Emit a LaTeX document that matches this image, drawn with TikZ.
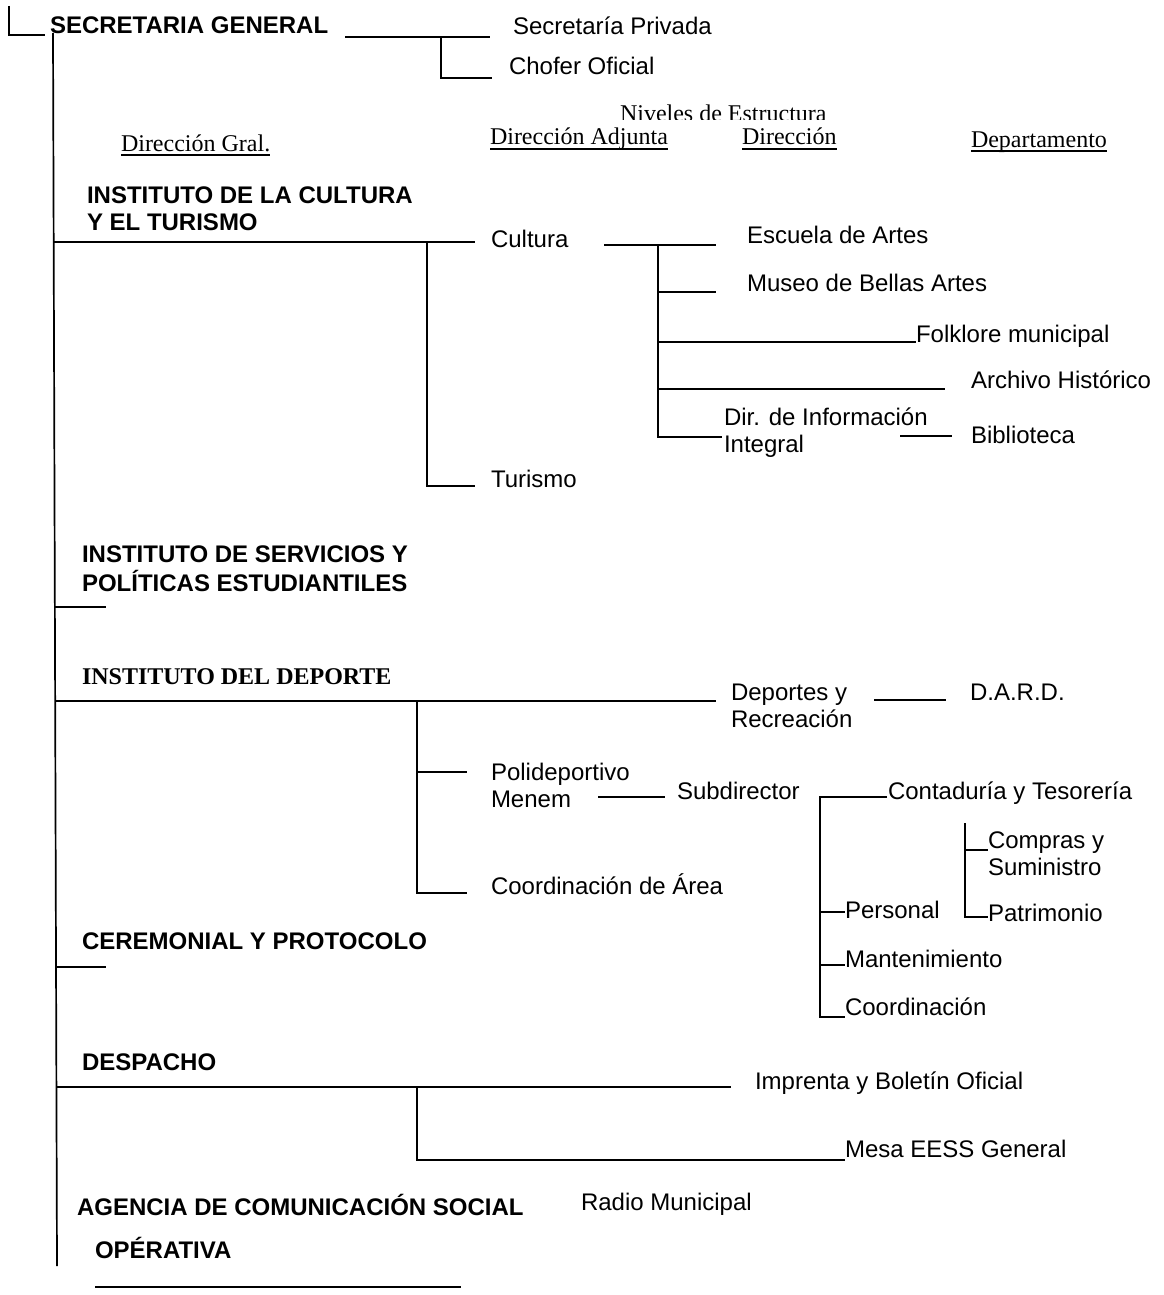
\documentclass[tikz,border=0pt]{standalone}
\usepackage{fontspec}
\setmainfont{Liberation Sans}
\newfontfamily\tmsfont{Liberation Serif}
\newcommand\myfs{\fontsize{24}{27}\selectfont}
\newcommand\twol[2]{\begin{tabular}[t]{@{}l@{}}#1\\#2\end{tabular}}
\tikzset{
  lbl/.style={anchor=base west, inner sep=0pt, outer sep=0pt, font=\myfs},
  blbl/.style={lbl, font=\myfs\bfseries},
  hdr/.style={lbl, font=\myfs\tmsfont},
  link/.style={line width=1.7pt, line join=miter},
  ulin/.style={line width=1.3pt}
}
\begin{document}
\begin{tikzpicture}[x=1pt,y=-1pt]
\useasboundingbox (0,0) rectangle (1163,1295);

% ---------- texts ----------
\node[blbl] (sg) at (50,34) {SECRETARIA GENERAL};
\node[lbl] (spriv) at (513,35) {Secretaría Privada};
\node[lbl] (chofer) at (509,75) {Chofer Oficial};

\begin{scope}
  \clip (600,90) rectangle (900,120);
  \node[hdr] (niveles) at (620,122) {Niveles de Estructura};
\end{scope}
\node[hdr] (dgral) at (121,151) {Dirección Gral.};
\node[hdr] (dadj) at (490,145) {Dirección Adjunta};
\node[hdr] (dir) at (742,145) {Dirección};
\node[hdr] (dep) at (971,147) {Departamento};
\foreach \n in {dgral,dadj,dir,dep}
  \draw[ulin] ([yshift=-4pt]\n.base west) -- ([yshift=-4pt]\n.base east);

\node[blbl] (icult) at (87,203) {\twol{INSTITUTO DE LA CULTURA}{Y EL TURISMO}};
\node[lbl] (cultura) at (491,247) {Cultura};
\node[lbl] (turismo) at (491,487) {Turismo};
\node[lbl] (escuela) at (747,243) {Escuela de Artes};
\node[lbl] (museo) at (747,291) {Museo de Bellas Artes};
\node[lbl] (folk) at (916,342) {Folklore municipal};
\node[lbl] (archivo) at (971,388) {Archivo Histórico};
\node[lbl] (dirinf) at (724,425) {\twol{Dir. de Información}{Integral}};
\node[lbl] (biblio) at (971,443) {Biblioteca};

\node[blbl] (iserv) at (82,562) {\twol{INSTITUTO DE SERVICIOS Y}{POLÍTICAS ESTUDIANTILES}};

\node[lbl, font=\myfs\tmsfont\bfseries] (idep) at (82,684) {INSTITUTO DEL DEPORTE};
\node[lbl] (deportes) at (731,700) {\twol{Deportes y}{Recreación}};
\node[lbl] (dard) at (970,700) {D.A.R.D.};
\node[lbl] (poli) at (491,780) {\twol{Polideportivo}{Menem}};
\node[lbl] (subdir) at (677,799) {Subdirector};
\node[lbl] (coordarea) at (491,894) {Coordinación de Área};
\node[lbl] (conta) at (888,799) {Contaduría y Tesorería};
\node[lbl] (compras) at (988,848) {\twol{Compras y}{Suministro}};
\node[lbl] (patri) at (988,921) {Patrimonio};
\node[lbl] (personal) at (845,918) {Personal};
\node[lbl] (mant) at (845,967) {Mantenimiento};
\node[lbl] (coord) at (845,1015) {Coordinación};

\node[blbl] (ceremonial) at (82,949) {CEREMONIAL Y PROTOCOLO};
\node[blbl] (despacho) at (82,1070) {DESPACHO};
\node[lbl] (imprenta) at (755,1089) {Imprenta y Boletín Oficial};
\node[lbl] (mesa) at (845,1157) {Mesa EESS General};
\node[blbl] (agencia) at (77,1215) {AGENCIA DE COMUNICACIÓN SOCIAL};
\node[lbl] (radio) at (581,1210) {Radio Municipal};
\node[blbl] (operativa) at (95,1258) {OPÉRATIVA};

% ---------- junction coordinates ----------
\coordinate (c0a) at (9,6);
\coordinate (c0b) at (9,35);
\coordinate (c0c) at (45,35);
\coordinate (mtop) at (53,33);
\coordinate (mbot) at (57,1266);

\coordinate (sga) at (345,37);
\coordinate (sgb) at (490,37);
\coordinate (sgj) at (441,37);
\coordinate (sgc) at (441,78);
\coordinate (sgd) at (492,78);

\coordinate (ica) at (54,242);
\coordinate (icb) at (475,242);
\coordinate (icj) at (427,242);
\coordinate (icc) at (427,486);
\coordinate (icd) at (475,486);

\coordinate (cua) at (604,245);
\coordinate (cub) at (716,245);
\coordinate (cuj) at (658,245);
\coordinate (cuc) at (658,437);
\coordinate (cud) at (722,437);
\coordinate (cu2a) at (658,292);
\coordinate (cu2b) at (716,292);
\coordinate (cu3a) at (658,342);
\coordinate (cu4a) at (658,389);
\coordinate (cu4b) at (945,389);
\coordinate (bia) at (900,436);
\coordinate (bib) at (952,436);

\coordinate (isa) at (55,607);
\coordinate (isb) at (106,607);

\coordinate (ida) at (55,701);
\coordinate (idb) at (716,701);
\coordinate (idj) at (417,701);
\coordinate (idc) at (417,893);
\coordinate (idd) at (467,893);
\coordinate (id2a) at (417,772);
\coordinate (id2b) at (467,772);
\coordinate (dea) at (874,700);
\coordinate (deb) at (946,700);
\coordinate (poa) at (598,797);
\coordinate (pob) at (665,797);
\coordinate (sua) at (887,797);
\coordinate (suj) at (820,797);
\coordinate (suc) at (820,1017);
\coordinate (su2a) at (820,912);
\coordinate (su3a) at (820,965);
\coordinate (cta) at (965,823);
\coordinate (ctc) at (965,917);
\coordinate (ct2a) at (965,850);

\coordinate (cea) at (56,967);
\coordinate (ceb) at (106,967);

\coordinate (dsa) at (56,1087);
\coordinate (dsb) at (731,1087);
\coordinate (dsj) at (417,1087);
\coordinate (dsc) at (417,1160);

\coordinate (opa) at (95,1287);
\coordinate (opb) at (461,1287);

% ---------- connectors ----------
\draw[link] (c0a) -- (c0b) -- (c0c);
\draw[link] (mtop) -- (mbot);

\draw[link] (sga) -- (sgb);
\draw[link] (sgj) -- (sgc) -- (sgd);

\draw[link] (ica) -- (icb);
\draw[link] (icj) -- (icc) -- (icd);

\draw[link] (cua) -- (cub);
\draw[link] (cuj) -- (cuc) -- (cud);
\draw[link] (cu2a) -- (cu2b);
\draw[link] (cu3a) -- (folk.base west);
\draw[link] (cu4a) -- (cu4b);
\draw[link] (bia) -- (bib);

\draw[link] (isa) -- (isb);

\draw[link] (ida) -- (idb);
\draw[link] (idj) -- (idc) -- (idd);
\draw[link] (id2a) -- (id2b);
\draw[link] (dea) -- (deb);
\draw[link] (poa) -- (pob);
\draw[link] (sua) -- (suj) -- (suc) -- (coord.base west |- suc);
\draw[link] (su2a) -- (personal.base west |- su2a);
\draw[link] (su3a) -- (mant.base west |- su3a);
\draw[link] (cta) -- (ctc) -- (patri.base west |- ctc);
\draw[link] (ct2a) -- (compras.base west |- ct2a);

\draw[link] (cea) -- (ceb);

\draw[link] (dsa) -- (dsb);
\draw[link] (dsj) -- (dsc) -- (mesa.base west |- dsc);

\draw[link] (opa) -- (opb);
\end{tikzpicture}
\end{document}
